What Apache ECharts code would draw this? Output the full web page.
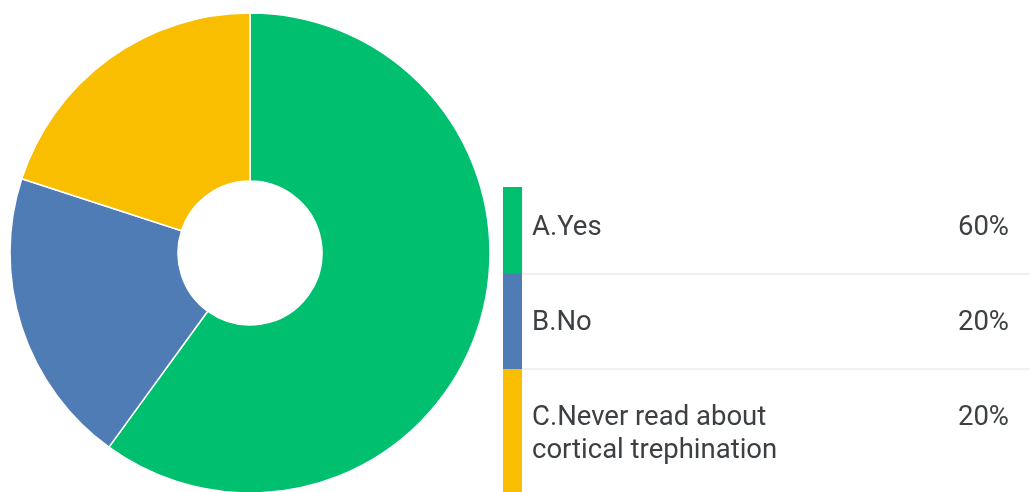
<!DOCTYPE html>
<html>
<head>
<meta charset="utf-8">
<script src="https://cdn.jsdelivr.net/npm/echarts@6/dist/echarts.min.js"></script>
<style>
  html, body { margin: 0; padding: 0; background: #fff; }
  #chart { width: 1030px; height: 492px; }
</style>
</head>
<body>
<div id="chart"></div>
<script>
// Survey answers and their shares (%)
const categories = ['A.Yes', 'B.No', 'C.Never read about\ncortical trephination'];
const shares = [60, 20, 20];
const colors = ['#00BF6F', '#507CB6', '#F9BE00'];

// Legend table layout: row top edges, label centre lines and the table bottom
const rowTops = [187, 274, 369];
const labelY = [228, 323.5, 418.5];
const tableBottom = 500;
const lineGap = 33;
const barX = 503, barW = 19, textX = 532, pctRight = 1009;
const textFont = '27.5px Roboto, sans-serif';
const textColor = '#3c4043';

const chart = echarts.init(document.getElementById('chart'), null, { renderer: 'canvas' });

const graphics = [];
categories.forEach((name, i) => {
  const top = rowTops[i];
  const bottom = i + 1 < rowTops.length ? rowTops[i + 1] : tableBottom;
  graphics.push({
    type: 'rect', shape: { x: barX, y: top, width: barW, height: bottom - top },
    style: { fill: colors[i] }, silent: true
  });
  if (i > 0) {
    graphics.push({
      type: 'line', shape: { x1: barX + barW, y1: top, x2: 1030, y2: top },
      style: { stroke: '#ececec', lineWidth: 1.5 }, silent: true
    });
  }
  name.split('\n').forEach((line, k) => {
    graphics.push({
      type: 'text', x: textX, y: labelY[i] + k * lineGap,
      style: { text: line, font: textFont, fill: textColor, verticalAlign: 'middle' },
      silent: true
    });
  });
  graphics.push({
    type: 'text', x: pctRight, y: labelY[i],
    style: {
      text: shares[i] + '%', font: textFont, fill: textColor,
      align: 'right', verticalAlign: 'middle'
    }, silent: true
  });
});

chart.setOption({
  animation: false,
  backgroundColor: '#fff',
  series: [{
    type: 'pie',
    center: [250, 253],
    radius: [72, 240],
    startAngle: 90,
    clockwise: true,
    label: { show: false },
    labelLine: { show: false },
    emphasis: { disabled: true },
    itemStyle: { borderColor: '#fff', borderWidth: 1.5 },
    data: categories.map((name, i) => ({
      name, value: shares[i], itemStyle: { color: colors[i] }
    }))
  }],
  graphic: graphics
});
</script>
</body>
</html>
